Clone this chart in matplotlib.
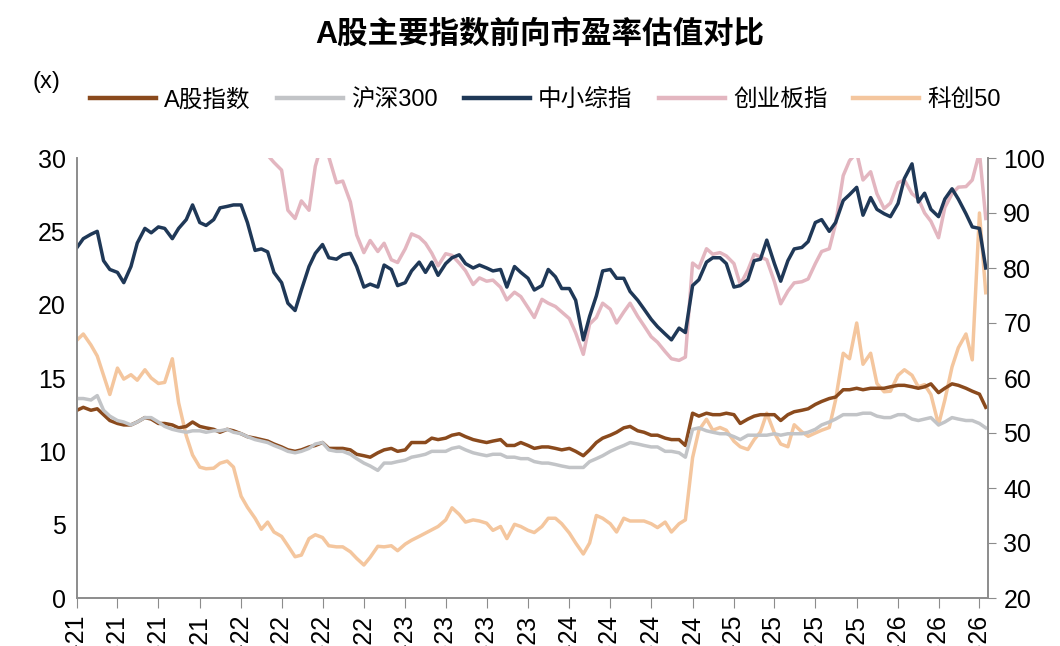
import numpy as np
import pandas as pd
import matplotlib
matplotlib.use('Agg')
import matplotlib.pyplot as plt
import matplotlib.dates as mdates

plt.rcParams['font.family'] = ['Liberation Sans', 'Noto Sans CJK SC', 'DejaVu Sans']

nan = np.nan

title = 'A股主要指数前向市盈率估值对比'
unit_label = '(x)'
series_names = ['A股指数', '沪深300', '中小综指', '创业板指', '科创50']

# semi-monthly observations (1st / 15th) from Jan-2021
start_date = '2021-01-01'

a_share = [
    12.8, 13.0, 12.8, 12.9, 12.5, 12.1, 11.9, 11.8, 11.8, 12.0,
    12.3, 12.2, 11.9, 11.9, 11.8, 11.6, 11.7, 12.0, 11.7, 11.6,
    11.5, 11.3, 11.5, 11.4, 11.2, 11.0, 10.9, 10.8, 10.7, 10.5,
    10.3, 10.1, 10.0, 10.1, 10.3, 10.4, 10.6, 10.2, 10.2, 10.2,
    10.1, 9.8, 9.7, 9.6, 9.9, 10.1, 10.2, 10.0, 10.1, 10.6,
    10.6, 10.6, 10.9, 10.8, 10.9, 11.1, 11.2, 11.0, 10.8, 10.7,
    10.6, 10.7, 10.8, 10.4, 10.4, 10.6, 10.4, 10.2, 10.3, 10.3,
    10.2, 10.1, 10.2, 10.0, 9.7, 10.1, 10.6, 10.9, 11.1, 11.3,
    11.6, 11.7, 11.4, 11.3, 11.1, 11.1, 10.9, 10.8, 10.8, 10.4,
    12.6, 12.4, 12.6, 12.5, 12.5, 12.6, 12.5, 11.9, 12.2, 12.4,
    12.5, 12.5, 12.5, 12.1, 12.5, 12.7, 12.8, 12.9, 13.2, 13.4,
    13.6, 13.7, 14.2, 14.2, 14.3, 14.2, 14.3, 14.3, 14.3, 14.4,
    14.5, 14.5, 14.4, 14.3, 14.4, 14.6, 14.0, 14.3, 14.6, 14.5,
    14.3, 14.1, 13.9, 13.0,
]

hs300 = [
    13.6, 13.6, 13.5, 13.8, 12.8, 12.4, 12.1, 12.0, 11.8, 12.0,
    12.3, 12.3, 12.0, 11.7, 11.5, 11.4, 11.3, 11.4, 11.4, 11.3,
    11.4, 11.4, 11.5, 11.3, 11.2, 11.0, 10.8, 10.7, 10.6, 10.4,
    10.2, 10.0, 9.9, 10.0, 10.2, 10.5, 10.6, 10.1, 10.0, 10.0,
    9.8, 9.5, 9.2, 9.0, 8.7, 9.2, 9.2, 9.3, 9.4, 9.6,
    9.7, 9.8, 10.0, 10.0, 10.0, 10.2, 10.3, 10.1, 9.9, 9.8,
    9.7, 9.8, 9.8, 9.6, 9.6, 9.5, 9.5, 9.3, 9.2, 9.2,
    9.1, 9.0, 8.9, 8.9, 8.9, 9.3, 9.5, 9.7, 10.0, 10.2,
    10.4, 10.6, 10.5, 10.4, 10.3, 10.3, 10.0, 10.0, 9.9, 9.6,
    11.5, 11.6, 11.4, 11.3, 11.2, 11.2, 11.0, 10.8, 11.1, 11.1,
    11.1, 11.1, 11.2, 11.1, 11.2, 11.2, 11.2, 11.3, 11.5, 11.8,
    12.0, 12.2, 12.5, 12.5, 12.5, 12.6, 12.6, 12.4, 12.3, 12.3,
    12.5, 12.5, 12.2, 12.1, 12.2, 12.3, 11.8, 12.0, 12.3, 12.2,
    12.1, 12.1, 11.9, 11.6,
]

sme = [
    23.9, 24.5, 24.8, 25.0, 23.0, 22.4, 22.2, 21.5, 22.6, 24.2,
    25.2, 24.9, 25.3, 25.2, 24.5, 25.2, 25.8, 26.8, 25.6, 25.4,
    25.8, 26.6, 26.7, 26.8, 26.8, 25.6, 23.7, 23.8, 23.6, 22.2,
    21.5, 20.1, 19.6, 21.0, 22.6, 23.5, 24.1, 23.2, 23.1, 23.4,
    23.5, 22.6, 21.2, 21.4, 21.2, 22.7, 22.4, 21.3, 21.5, 22.3,
    22.9, 22.2, 22.9, 22.0, 22.8, 23.2, 23.4, 22.8, 22.5, 22.7,
    22.5, 22.3, 22.4, 21.2, 22.6, 22.2, 21.8, 21.0, 21.3, 22.4,
    21.9, 21.1, 21.1, 20.3, 17.6, 19.2, 20.6, 22.3, 22.4, 21.8,
    21.8, 20.9, 20.3, 19.7, 19.0, 18.5, 18.0, 17.6, 18.4, 18.1,
    21.3, 21.7, 22.9, 23.2, 23.2, 22.8, 21.2, 21.3, 21.7, 23.0,
    23.1, 24.4, 22.8, 21.6, 23.0, 23.8, 23.9, 24.3, 25.6, 25.8,
    25.0, 25.6, 27.1, 27.5, 28.0, 26.1, 27.3, 26.5, 26.2, 26.0,
    26.9, 28.6, 29.6, 27.0, 27.6, 26.5, 26.0, 27.2, 27.9, 27.2,
    26.2, 25.3, 25.2, 22.5,
]

chinext = [
    nan, nan, nan, nan, nan, nan, nan, nan, nan, nan,
    nan, nan, nan, nan, nan, nan, nan, nan, nan, nan,
    nan, nan, nan, nan, nan, nan, nan, 103.0, 100.5, 99.2,
    97.8, 90.5, 89.0, 92.2, 90.5, 98.5, 103.0, 100.2, 95.5, 95.8,
    92.0, 86.0, 82.8, 85.0, 83.0, 84.5, 81.5, 81.0, 83.5, 86.2,
    85.6, 84.5, 82.7, 80.4, 82.6, 82.3, 80.9, 79.5, 77.0, 78.2,
    77.6, 77.8, 76.5, 74.2, 75.6, 74.8, 72.8, 71.0, 74.3, 73.6,
    73.0, 72.0, 70.8, 68.2, 64.3, 69.8, 71.0, 73.6, 72.5, 70.0,
    72.0, 73.6, 71.2, 69.5, 67.5, 66.5, 64.8, 63.5, 63.2, 63.8,
    80.9, 80.0, 83.5, 82.5, 82.8, 82.2, 80.8, 77.0, 79.6, 82.5,
    82.0, 81.5, 77.5, 73.5, 75.8, 77.3, 77.5, 78.0, 80.8, 83.0,
    83.5, 88.0, 96.8, 99.5, 101.0, 96.0, 97.5, 93.5, 90.8, 91.8,
    95.5, 96.0, 93.5, 92.6, 90.0, 88.5, 85.5, 91.0, 93.5, 94.7,
    94.8, 96.0, 101.0, 89.0,
]

star50 = [
    66.9, 68.0, 66.0, 64.0, 60.5, 57.0, 61.8, 59.8, 60.6, 59.6,
    61.5, 60.0, 59.0, 59.2, 63.5, 55.5, 49.5, 46.0, 43.8, 43.5,
    43.6, 44.5, 44.9, 43.8, 38.5, 36.5, 34.5, 32.5, 33.8, 32.0,
    31.2, 29.5, 27.5, 27.8, 30.8, 31.5, 31.0, 29.5, 29.3, 29.3,
    28.4, 27.2, 26.0, 27.4, 29.4, 29.3, 29.5, 28.6, 29.8, 30.5,
    31.2, 31.8, 32.4, 33.0, 34.2, 36.4, 35.2, 33.8, 34.2, 34.0,
    33.6, 32.3, 33.0, 30.8, 33.4, 33.0, 32.3, 31.9, 33.0, 34.5,
    34.5, 33.5, 31.8, 30.0, 28.0, 30.0, 35.0, 34.5, 33.5, 32.0,
    34.5, 34.0, 34.0, 34.0, 33.5, 32.8, 33.8, 32.0, 33.5, 34.2,
    45.5, 50.5, 52.5, 50.5, 51.0, 50.5, 48.5, 47.5, 47.0, 48.8,
    50.2, 53.6, 50.0, 48.0, 47.5, 51.5, 50.2, 49.4, 50.0, 50.5,
    51.0, 56.0, 64.5, 63.5, 70.0, 62.5, 64.5, 59.0, 57.5, 57.6,
    60.5, 61.5, 60.5, 58.4, 58.8, 57.0, 51.5, 56.0, 62.0, 65.5,
    68.0, 63.3, 90.0, 75.5,
]

left_ticks = [0, 5, 10, 15, 20, 25, 30]
right_ticks = [20, 30, 40, 50, 60, 70, 80, 90, 100]

colors = ['#8a4a1d', '#c2c4c7', '#1f3857', '#e3b6c0', '#f4c69e']

dates = pd.date_range(start_date, periods=len(a_share), freq='SMS')

W, H = 1060, 646
fig = plt.figure(figsize=(W / 100, H / 100), dpi=100)
ax = fig.add_axes([77 / W, (H - 598) / H, (988 - 77) / W, (598 - 158) / H])
ax2 = ax.twinx()
ax.set_zorder(ax2.get_zorder() + 1)
ax.patch.set_visible(False)

lw = 2.5
h1, = ax.plot(dates, a_share, color=colors[0], lw=lw, label=series_names[0])
h2, = ax.plot(dates, hs300, color=colors[1], lw=lw, label=series_names[1])
h3, = ax.plot(dates, sme, color=colors[2], lw=lw, label=series_names[2])
h4, = ax2.plot(dates, chinext, color=colors[3], lw=lw, label=series_names[3])
h5, = ax2.plot(dates, star50, color=colors[4], lw=lw, label=series_names[4])

ax.set_ylim(0, 30)
ax.set_yticks(left_ticks)
ax2.set_ylim(20, 100)
ax2.set_yticks(right_ticks)
ax.set_xlim(pd.Timestamp('2021-01-01'), pd.Timestamp('2026-07-20'))

spine_c = '#8c8c8c'
for a in (ax, ax2):
    a.spines['top'].set_visible(False)
    for s in ('left', 'right', 'bottom'):
        a.spines[s].set_color(spine_c)
        a.spines[s].set_linewidth(1.2)

ax.tick_params(axis='y', length=0, pad=8, labelsize=18)
ax2.tick_params(axis='y', length=6, direction='out', color=spine_c, pad=5, labelsize=18)
ax.xaxis.set_major_locator(mdates.MonthLocator(bymonth=[1, 4, 7, 10]))
ax.xaxis.set_major_formatter(mdates.DateFormatter('%b-%y'))
ax.tick_params(axis='x', length=7, color=spine_c, labelsize=18, pad=5)
for lab in ax.get_xticklabels():
    lab.set_rotation(90)
    lab.set_ha('center')
    lab.set_va('top')

fig.text(0.509, 0.946, title, ha='center', va='center', fontsize=22, fontweight='bold')
fig.text(0.044, 0.873, unit_label, ha='center', va='center', fontsize=17)

handles = [h1, h2, h3, h4, h5]
leg = fig.legend(handles, series_names, loc='center', bbox_to_anchor=(0.5146, 0.845),
                 ncol=5, frameon=False, fontsize=17, handlelength=2.8,
                 handletextpad=0.35, columnspacing=1.1)
for l in leg.get_lines():
    l.set_linewidth(3.2)

fig.savefig('out.png', dpi=100)
